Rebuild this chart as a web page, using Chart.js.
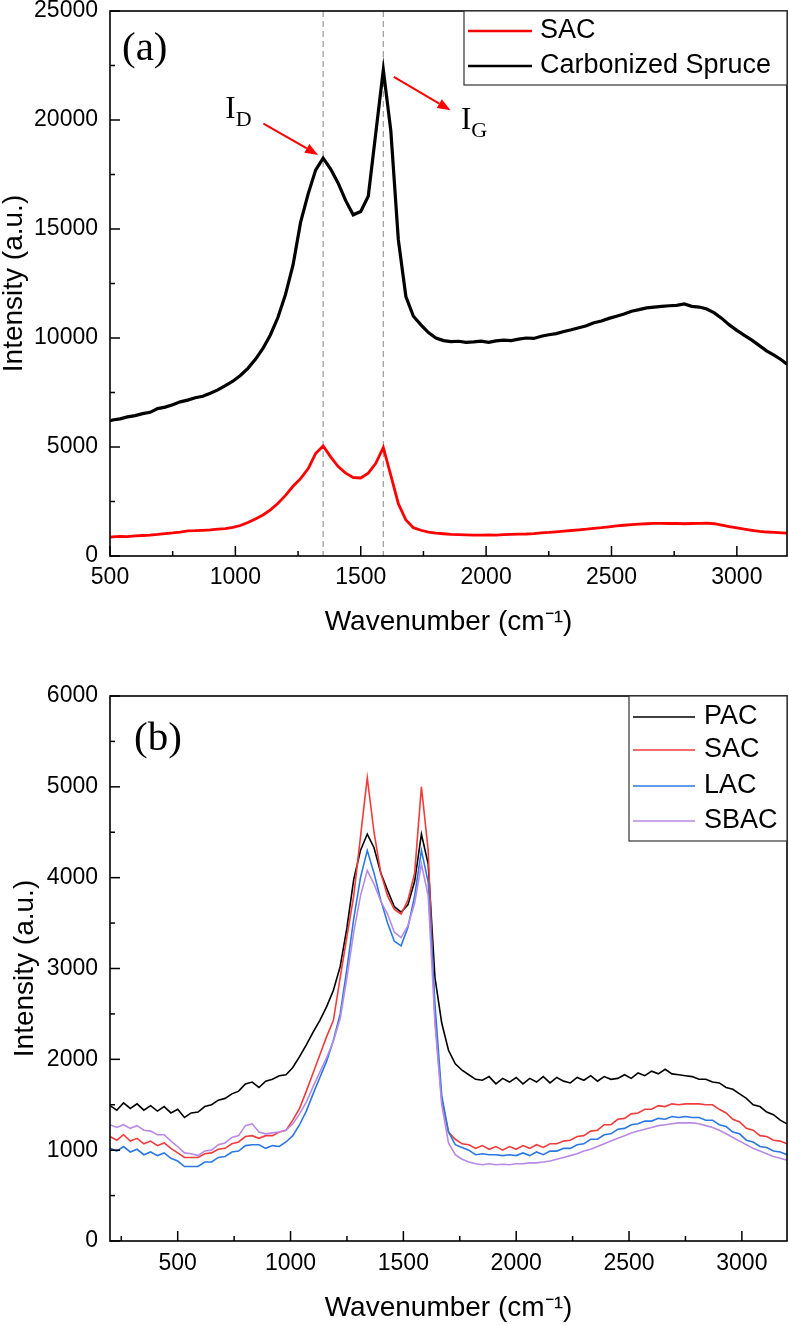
<!DOCTYPE html>
<html>
<head>
<meta charset="utf-8">
<title>Raman spectra</title>
<script src="https://cdn.jsdelivr.net/npm/chart.js@4.4.1/dist/chart.umd.min.js"></script>
<style>
  body { margin: 0; background: #fff; }
  canvas { display: block; }
</style>
</head>
<body>
<canvas id="chartA" width="789" height="650"></canvas>
<canvas id="chartB" width="789" height="675"></canvas>
<script>
// ---- panel (a): SAC vs carbonized spruce ----
const wavenumberA = [
  500, 510, 540, 570, 600, 630, 660, 690, 720, 750,
  780, 810, 840, 870, 900, 930, 960, 990, 1020, 1050,
  1080, 1110, 1140, 1170, 1200, 1230, 1260, 1290, 1320, 1350,
  1380, 1410, 1440, 1470, 1500, 1530, 1560, 1590, 1620, 1650,
  1680, 1710, 1740, 1770, 1800, 1830, 1860, 1890, 1920, 1950,
  1980, 2010, 2040, 2070, 2100, 2130, 2160, 2190, 2220, 2250,
  2280, 2310, 2340, 2370, 2400, 2430, 2460, 2490, 2520, 2550,
  2580, 2610, 2640, 2670, 2700, 2730, 2760, 2790, 2820, 2850,
  2880, 2910, 2940, 2970, 3000, 3030, 3060, 3090, 3120, 3150,
  3180, 3200
];
const sacA = [
  870, 880, 900, 890, 920, 940, 960, 990, 1030, 1060,
  1100, 1150, 1160, 1180, 1200, 1230, 1260, 1310, 1400, 1540,
  1700, 1880, 2120, 2420, 2780, 3200, 3550, 4000, 4700, 5050,
  4550, 4100, 3800, 3600, 3580, 3800, 4250, 4980, 3700, 2400,
  1650, 1300, 1180, 1100, 1050, 1020, 990, 980, 970, 960,
  960, 970, 960, 980, 990, 1000, 1010, 1030, 1060, 1080,
  1110, 1140, 1170, 1200, 1230, 1270, 1300, 1340, 1380, 1410,
  1440, 1460, 1480, 1500, 1500, 1490, 1500, 1480, 1490, 1500,
  1510, 1480, 1420, 1350, 1290, 1230, 1180, 1130, 1100, 1080,
  1060, 1050
];
const spruceA = [
  6200, 6240, 6290, 6380, 6440, 6530, 6590, 6760, 6830, 6940,
  7070, 7150, 7260, 7330, 7470, 7620, 7820, 8020, 8280, 8610,
  9020, 9520, 10150, 10950, 12000, 13350, 15300, 16600, 17700, 18250,
  17750, 17100, 16300, 15650, 15800, 16500, 19400, 22300, 19500, 14500,
  11900, 11000, 10600, 10250, 10000, 9880, 9830, 9850, 9800, 9820,
  9860, 9800, 9870, 9900, 9880, 9950, 10000, 9980, 10080, 10150,
  10200, 10300, 10380, 10470, 10560, 10700, 10780, 10900, 11000, 11100,
  11230, 11300, 11380, 11420, 11450, 11480, 11500, 11560, 11450, 11420,
  11330, 11150, 10900, 10600, 10350, 10120, 9900, 9650, 9400, 9200,
  8980, 8800
];
const xTicksA = [500, 1000, 1500, 2000, 2500, 3000];
const xMinorA = [750, 1250, 1750, 2250, 2750];
const yTicksA = [0, 5000, 10000, 15000, 20000, 25000];
const yMinorA = [2500, 7500, 12500, 17500, 22500];
const peakLinesA = [1350, 1590];

// ---- panel (b): four activated carbons ----
const wavenumberB = [
  200, 230, 260, 290, 320, 350, 380, 410, 440, 470,
  500, 530, 560, 590, 620, 650, 680, 710, 740, 770,
  800, 830, 860, 890, 920, 950, 980, 1010, 1040, 1070,
  1100, 1130, 1160, 1190, 1220, 1250, 1280, 1310, 1340, 1370,
  1400, 1430, 1460, 1490, 1520, 1550, 1580, 1610, 1640, 1670,
  1700, 1730, 1760, 1790, 1820, 1850, 1880, 1910, 1940, 1970,
  2000, 2030, 2060, 2090, 2120, 2150, 2180, 2210, 2240, 2270,
  2300, 2330, 2360, 2390, 2420, 2450, 2480, 2510, 2540, 2570,
  2600, 2630, 2660, 2690, 2720, 2750, 2780, 2810, 2840, 2870,
  2900, 2930, 2960, 2990, 3020, 3050, 3080, 3110, 3140, 3170,
  3200
];
const pacB = [
  1490, 1440, 1520, 1460, 1510, 1440, 1490, 1430, 1480, 1410,
  1450, 1360, 1410, 1420, 1480, 1500, 1550, 1570, 1620, 1650,
  1730, 1750, 1690, 1760, 1780, 1820, 1830, 1910, 2030, 2160,
  2300, 2430, 2580, 2760, 3020, 3450, 3980, 4300, 4480, 4330,
  4050, 3860, 3680, 3620, 3700, 3960, 4480, 4150, 2900, 2400,
  2100, 1950, 1880, 1830, 1780, 1770, 1810, 1730, 1790, 1750,
  1800, 1730, 1790, 1750, 1810, 1740, 1800, 1760, 1740, 1800,
  1770, 1820, 1760, 1810, 1780, 1790, 1830, 1790, 1850, 1820,
  1870, 1840, 1890, 1840, 1830, 1820, 1810, 1780, 1780, 1750,
  1740, 1690, 1670, 1620, 1570, 1500, 1480, 1420, 1390, 1330,
  1290
];
const sacB = [
  1150, 1110, 1170, 1100, 1130, 1070, 1100, 1050, 1080, 1020,
  970, 920, 920, 920, 960, 970, 1010, 1020, 1070, 1090,
  1150, 1160, 1130, 1160, 1160, 1200, 1220, 1330, 1460, 1650,
  1850, 2050, 2250, 2430, 2900, 3350, 3800, 4450, 5100, 4500,
  4050, 3800, 3650, 3600, 3750, 4050, 5000, 4300, 2450, 1550,
  1200, 1120, 1070, 1060, 1020, 1050, 1010, 1040, 1000, 1040,
  1010, 1050, 1020, 1060, 1030, 1070, 1070, 1100, 1110, 1150,
  1160, 1210, 1220, 1280, 1280, 1340, 1350, 1400, 1410, 1450,
  1450, 1490, 1480, 1510, 1500, 1510, 1510, 1510, 1500, 1500,
  1450, 1410, 1340, 1310, 1240, 1220, 1160, 1150, 1110, 1100,
  1070
];
const lacB = [
  1020, 990, 1040, 980, 1010, 950, 980, 940, 970, 910,
  880, 820, 820, 820, 870, 870, 920, 930, 980, 990,
  1050, 1060, 1060, 1020, 1050, 1040, 1090, 1160, 1280, 1430,
  1620, 1800, 1980, 2210, 2500, 3000, 3550, 4000, 4300, 4050,
  3750, 3500, 3300, 3250, 3450, 3800, 4300, 3950, 2600, 1600,
  1200, 1060, 1030, 1000, 950, 960, 950, 950, 940, 950,
  940, 970, 940, 980, 950, 990, 990, 1020, 1020, 1060,
  1070, 1120, 1120, 1170, 1180, 1230, 1240, 1280, 1290, 1320,
  1320, 1350, 1340, 1370, 1360, 1370, 1360, 1360, 1330, 1330,
  1280, 1260, 1200, 1180, 1110, 1090, 1040, 1030, 990, 980,
  950
];
const sbacB = [
  1280, 1250, 1280, 1240, 1270, 1220, 1210, 1170, 1170, 1100,
  1040, 970, 960, 940, 990, 1000, 1060, 1080, 1140, 1160,
  1270, 1290, 1200, 1180, 1190, 1200, 1220, 1290, 1400, 1530,
  1700, 1860, 2020, 2200, 2450, 2900, 3400, 3800, 4080, 3930,
  3740, 3600, 3400, 3340, 3470, 3720, 4150, 3800, 2400, 1500,
  1080, 950, 900, 870, 850, 840, 850, 840, 845, 840,
  850, 850, 860, 860, 870, 880, 900, 920, 940, 960,
  990, 1010, 1040, 1070, 1100, 1130, 1160, 1190, 1210, 1230,
  1250, 1270, 1280, 1290, 1300, 1300, 1300, 1290, 1270, 1250,
  1220, 1180, 1140, 1100, 1060, 1020, 990, 960, 930, 910,
  890
];
const xTicksB = [500, 1000, 1500, 2000, 2500, 3000];
const xMinorB = [250, 750, 1250, 1750, 2250, 2750];
const yTicksB = [0, 1000, 2000, 3000, 4000, 5000, 6000];
const yMinorB = [500, 1500, 2500, 3500, 4500, 5500];

const SANS = '"Liberation Sans", Arial, sans-serif';
const SERIF = '"Liberation Serif", "Times New Roman", serif';
Chart.defaults.font.family = SANS;
Chart.defaults.color = '#000';

const toPoints = (xs, ys) => xs.map((w, i) => ({ x: w, y: ys[i] }));

function line(label, xs, ys, color, width, order) {
  return {
    label, data: toPoints(xs, ys), borderColor: color, borderWidth: width,
    pointRadius: 0, fill: false, tension: 0, order
  };
}

// axes with fixed sizes so the plot box lands where the figure has it
function axes(c) {
  return {
    x: {
      type: 'linear', min: c.xRange[0], max: c.xRange[1],
      grid: { display: false, drawTicks: false }, border: { display: false },
      ticks: { font: { size: 23 }, padding: c.xTickPad, maxRotation: 0, autoSkip: false, callback: v => String(v) },
      afterBuildTicks: s => { s.ticks = c.xTicks.map(v => ({ value: v })); },
      afterFit: s => { s.height = c.xHeight; s.paddingLeft = 0; s.paddingRight = 0; },
      title: { display: true, text: 'Wavenumber (cm\u207B\u00B9)', font: { size: 28, lineHeight: 1.2 }, padding: { top: 0, bottom: c.xTitlePad } }
    },
    y: {
      type: 'linear', min: c.yRange[0], max: c.yRange[1],
      grid: { display: false, drawTicks: false }, border: { display: false },
      ticks: { font: { size: 23 }, padding: 12, callback: v => String(v) },
      afterBuildTicks: s => { s.ticks = c.yTicks.map(v => ({ value: v })); },
      afterFit: s => { s.width = 110; s.paddingTop = 0; s.paddingBottom = 0; },
      title: { display: true, text: 'Intensity (a.u.)', font: { size: 28, lineHeight: 1.05 }, padding: { top: c.yTitlePad, bottom: 0 } }
    }
  };
}

// frame, inward ticks, legend box, peak markers and labels
function decorations(c) {
  return {
    id: 'decorations',
    beforeDatasetsDraw(chart) {
      const { ctx, chartArea: a, scales: { x } } = chart;
      ctx.save();
      ctx.strokeStyle = '#9a9a9a';
      ctx.lineWidth = 1.2;
      ctx.setLineDash([6, 4]);
      (c.peakLines || []).forEach(w => {
        const px = x.getPixelForValue(w);
        ctx.beginPath(); ctx.moveTo(px, a.top); ctx.lineTo(px, a.bottom); ctx.stroke();
      });
      ctx.restore();
    },
    afterDraw(chart) {
      const { ctx, chartArea: a, scales: { x, y } } = chart;
      const seg = (x1, y1, x2, y2) => { ctx.beginPath(); ctx.moveTo(x1, y1); ctx.lineTo(x2, y2); ctx.stroke(); };
      ctx.save();

      ctx.strokeStyle = '#000';
      ctx.lineWidth = 1.6;
      ctx.strokeRect(a.left, a.top, a.right - a.left, a.bottom - a.top);
      ctx.lineWidth = 1.5;
      x.ticks.forEach(t => { const p = x.getPixelForValue(t.value); seg(p, a.bottom, p, a.bottom - 10); });
      c.xMinor.forEach(v => { const p = x.getPixelForValue(v); seg(p, a.bottom, p, a.bottom - 5); });
      y.ticks.forEach(t => { const p = y.getPixelForValue(t.value); seg(a.left, p, a.left + 10, p); });
      c.yMinor.forEach(v => { const p = y.getPixelForValue(v); seg(a.left, p, a.left + 5, p); });

      // legend
      const L = c.legend;
      const bx = a.right - L.width, by = a.top;
      ctx.fillStyle = '#fff';
      ctx.fillRect(bx, by, L.width, L.height);
      ctx.strokeStyle = '#333';
      ctx.lineWidth = 1.2;
      ctx.strokeRect(bx, by, L.width, L.height);
      ctx.font = L.size + 'px ' + SANS;
      ctx.textBaseline = 'middle';
      L.items.forEach((it, i) => {
        const ry = by + L.rows[i];
        ctx.strokeStyle = it.color;
        ctx.lineWidth = it.width;
        seg(bx + 4, ry, bx + L.lineEnd, ry);
        ctx.fillStyle = '#000';
        ctx.fillText(it.label, bx + L.textX, ry);
      });

      // panel letter
      ctx.textBaseline = 'alphabetic';
      ctx.fillStyle = '#000';
      ctx.font = '41px ' + SERIF;
      ctx.fillText(c.panel, a.left + c.panelPos[0], a.top + c.panelPos[1]);

      // band labels and arrows
      (c.notes || []).forEach(n => {
        const px = x.getPixelForValue(n.w), py = y.getPixelForValue(n.v);
        ctx.fillStyle = '#000';
        ctx.font = '31px ' + SERIF;
        ctx.fillText(n.main, px, py);
        const mw = ctx.measureText(n.main).width;
        ctx.font = '22px ' + SERIF;
        ctx.fillText(n.sub, px + mw, py + 8);
      });
      (c.arrows || []).forEach(ar => {
        const x1 = x.getPixelForValue(ar.from[0]), y1 = y.getPixelForValue(ar.from[1]);
        const x2 = x.getPixelForValue(ar.to[0]), y2 = y.getPixelForValue(ar.to[1]);
        const ang = Math.atan2(y2 - y1, x2 - x1);
        const hl = 13, hw = 5;
        const hx = x2 - hl * Math.cos(ang), hy = y2 - hl * Math.sin(ang);
        ctx.strokeStyle = '#f00';
        ctx.fillStyle = '#f00';
        ctx.lineWidth = 2;
        seg(x1, y1, hx, hy);
        ctx.beginPath();
        ctx.moveTo(x2, y2);
        ctx.lineTo(hx + hw * Math.sin(ang), hy - hw * Math.cos(ang));
        ctx.lineTo(hx - hw * Math.sin(ang), hy + hw * Math.cos(ang));
        ctx.closePath();
        ctx.fill();
      });
      ctx.restore();
    }
  };
}

const cfgA = {
  xRange: [500, 3200], yRange: [0, 25000],
  xTicks: xTicksA, xMinor: xMinorA, yTicks: yTicksA, yMinor: yMinorA,
  xHeight: 94, xTickPad: 8, xTitlePad: 11, yTitlePad: 0,
  peakLines: peakLinesA,
  panel: '(a)', panelPos: [12, 49],
  legend: {
    width: 323, height: 74, size: 27, lineEnd: 68, textX: 76, rows: [20, 55],
    items: [
      { label: 'SAC', color: '#ff0000', width: 2.5 },
      { label: 'Carbonized Spruce', color: '#000', width: 2.5 }
    ]
  },
  notes: [
    { main: 'I', sub: 'D', w: 960, v: 20100 },
    { main: 'I', sub: 'G', w: 1900, v: 19600 }
  ],
  arrows: [
    { from: [1112, 19830], to: [1330, 18400] },
    { from: [1632, 21980], to: [1858, 20450] }
  ]
};

const cfgB = {
  xRange: [200, 3200], yRange: [0, 6000],
  xTicks: xTicksB, xMinor: xMinorB, yTicks: yTicksB, yMinor: yMinorB,
  xHeight: 84, xTickPad: 9, xTitlePad: 0, yTitlePad: 11,
  panel: '(b)', panelPos: [24, 54],
  legend: {
    width: 158, height: 145, size: 27, lineEnd: 66, textX: 75, rows: [21, 54, 90, 125],
    items: [
      { label: 'PAC', color: '#000', width: 1.5 },
      { label: 'SAC', color: '#f03c3c', width: 1.5 },
      { label: 'LAC', color: '#2a78e4', width: 1.5 },
      { label: 'SBAC', color: '#b88ae6', width: 1.5 }
    ]
  }
};

new Chart(document.getElementById('chartA'), {
  type: 'line',
  data: {
    datasets: [
      line('SAC', wavenumberA, sacA, '#ff0000', 2.8, 0),
      line('Carbonized Spruce', wavenumberA, spruceA, '#000', 3.2, 1)
    ]
  },
  options: {
    responsive: false, animation: false, events: [],
    layout: { padding: { top: 11, right: 2, left: 0, bottom: 0 } },
    plugins: { legend: { display: false }, tooltip: { enabled: false } },
    scales: axes(cfgA)
  },
  plugins: [decorations(cfgA)]
});

new Chart(document.getElementById('chartB'), {
  type: 'line',
  data: {
    datasets: [
      line('PAC', wavenumberB, pacB, '#000', 1.6, 3),
      line('SAC', wavenumberB, sacB, '#f03c3c', 1.6, 2),
      line('LAC', wavenumberB, lacB, '#2a78e4', 1.6, 1),
      line('SBAC', wavenumberB, sbacB, '#b88ae6', 1.6, 0)
    ]
  },
  options: {
    responsive: false, animation: false, events: [],
    layout: { padding: { top: 46, right: 2, left: 0, bottom: 0 } },
    plugins: { legend: { display: false }, tooltip: { enabled: false } },
    scales: axes(cfgB)
  },
  plugins: [decorations(cfgB)]
});
</script>
</body>
</html>
